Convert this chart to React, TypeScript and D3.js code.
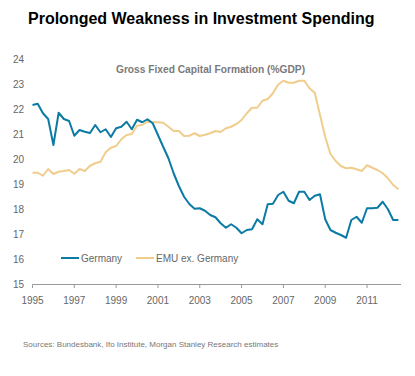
import React, { useEffect } from "react";
import * as d3 from "d3";

const germany = [
  22.16, 22.21, 21.83, 21.6, 20.56, 21.85, 21.6, 21.52, 20.93, 21.16, 21.09, 21.04,
  21.36, 21.07, 21.19, 20.88, 21.23, 21.29, 21.49, 21.19, 21.57, 21.47, 21.59, 21.43,
  20.96, 20.49, 20.03, 19.43, 18.92, 18.49, 18.2, 18.01, 18.03, 17.93, 17.76, 17.67,
  17.43, 17.25, 17.39, 17.25, 17.03, 17.16, 17.19, 17.59, 17.39, 18.19, 18.21, 18.56,
  18.69, 18.33, 18.23, 18.69, 18.69, 18.36, 18.53, 18.59, 17.59, 17.16, 17.05, 16.96,
  16.85, 17.56, 17.69, 17.45, 18.03, 18.03, 18.05, 18.29, 17.99, 17.56, 17.56,
];

const emuExGermany = [
  19.45, 19.45, 19.33, 19.6, 19.4, 19.49, 19.52, 19.56, 19.41, 19.6, 19.52, 19.73,
  19.83, 19.89, 20.27, 20.45, 20.52, 20.79, 20.96, 21.0, 21.33, 21.36, 21.49, 21.47,
  21.47, 21.45, 21.29, 21.12, 21.12, 20.92, 20.93, 21.03, 20.92, 20.97, 21.03, 21.12,
  21.08, 21.23, 21.29, 21.4, 21.56, 21.83, 22.05, 22.05, 22.33, 22.4, 22.63, 22.98,
  23.13, 23.05, 23.05, 23.13, 23.13, 22.83, 22.65, 21.76, 20.89, 20.2, 19.92, 19.72,
  19.63, 19.65, 19.59, 19.52, 19.75, 19.65, 19.56, 19.43, 19.23, 18.96, 18.79,
];

const yTicks = [15, 16, 17, 18, 19, 20, 21, 22, 23, 24];
const xTickYears = [1995, 1997, 1999, 2001, 2003, 2005, 2007, 2009, 2011];
const seriesNames = ["Germany", "EMU ex. Germany"];
const seriesColors = ["#0b7aa5", "#f0cd8c"];

const FONT = "'Liberation Sans', Arial, Helvetica, sans-serif";

export default function App() {
  useEffect(() => {
    document.body.style.margin = "0";
  }, []);

  const width = 415;
  const height = 376;
  const x = d3.scaleLinear().domain([1995, 2012.625]).range([32.5, 401]);
  const y = d3.scaleLinear().domain([15, 24]).range([284, 59]);
  const t = (i: number) => 1995 + i * 0.25;

  const line = d3
    .line<number>()
    .x((_, i) => x(t(i)))
    .y((d) => y(d));

  const series = [germany, emuExGermany];

  return (
    <svg width={width} height={height} style={{ display: "block", background: "#fff" }} fontFamily={FONT}>
      <text x={28} y={24} fontSize={16} fontWeight="bold" fill="#000">
        Prolonged Weakness in Investment Spending
      </text>
      <text x={210.5} y={73} fontSize={10.2} fontWeight="bold" fill="#7a7a7a" textAnchor="middle">
        Gross Fixed Capital Formation (%GDP)
      </text>

      {yTicks.map((v) => (
        <text key={v} x={13} y={y(v) + 3.6} fontSize={10} fill="#666">
          {v}
        </text>
      ))}

      <line x1={x(1995)} x2={401} y1={284.5} y2={284.5} stroke="#999" strokeWidth={1} />
      {xTickYears.map((yr) => (
        <g key={yr}>
          <line x1={x(yr)} x2={x(yr)} y1={284.5} y2={288} stroke="#999" strokeWidth={1} />
          <text x={x(yr)} y={304} fontSize={10} fill="#666" textAnchor="middle">
            {yr}
          </text>
        </g>
      ))}

      {[1, 0].map((k) => (
        <path
          key={k}
          d={line(series[k]) || ""}
          fill="none"
          stroke={seriesColors[k]}
          strokeWidth={2}
          strokeLinejoin="round"
        />
      ))}

      <line x1={61} x2={79} y1={258} y2={258} stroke={seriesColors[0]} strokeWidth={2} />
      <text x={81} y={261.5} fontSize={10} fill="#666">{seriesNames[0]}</text>
      <line x1={136} x2={154} y1={258} y2={258} stroke={seriesColors[1]} strokeWidth={2} />
      <text x={156} y={261.5} fontSize={10} fill="#666">{seriesNames[1]}</text>

      <text x={23} y={347.3} fontSize={8} fill="#777">
        Sources: Bundesbank, Ifo Institute, Morgan Stanley Research estimates
      </text>
    </svg>
  );
}
